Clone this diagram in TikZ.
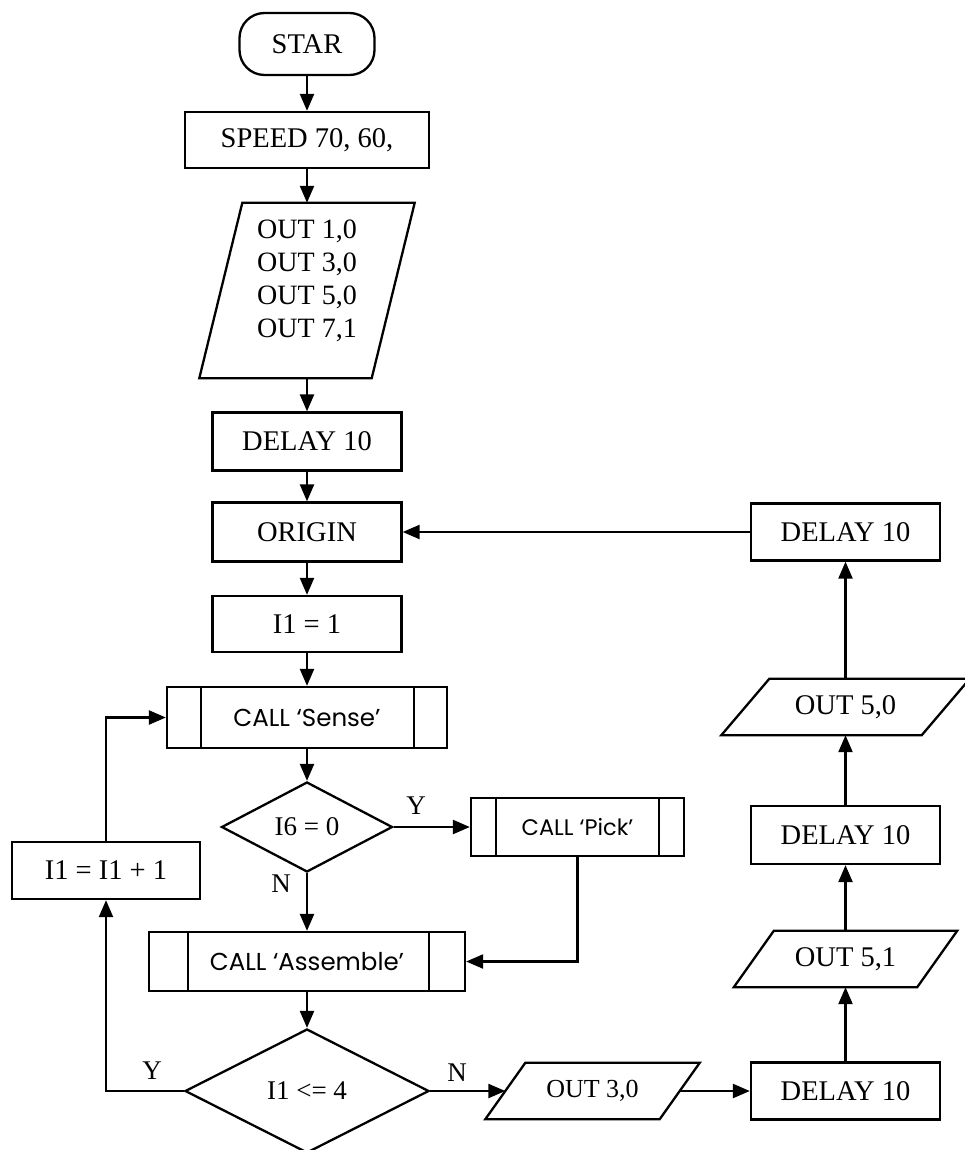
\documentclass[tikz,border=0pt]{standalone}
\usepackage{fontspec}
\setmainfont{Liberation Serif}
\newfontfamily\gothic{Poppins}
\usetikzlibrary{arrows.meta,shapes.geometric}
\newcommand\paraout[2]{\draw[line width=2.3pt] ([xshift=#2]#1.north west) -- ([xshift=#2]#1.north east) -- ([xshift=-#2]#1.south east) -- ([xshift=-#2]#1.south west) -- cycle;}
\begin{document}
\begin{tikzpicture}[x=1pt,y=-1pt,
  every node/.style={inner sep=0pt},
  serif/.style={font=\fontsize{28.5}{32}\selectfont},
  box/.style={draw, line width=2.3pt, rectangle, minimum width=189pt, minimum height=57pt, serif},
  subr/.style={draw, line width=2.3pt, rectangle, minimum height=60pt, font=\gothic\fontsize{24.5}{28}\selectfont},
  decision/.style={draw, line width=2.3pt, diamond, serif},
  paranode/.style={rectangle, minimum height=56pt, serif},
  lbl/.style={font=\fontsize{27}{30}\selectfont},
  arr/.style={line width=2.3pt, -{Triangle[length=17pt,width=14pt]}},
  plain/.style={line width=2.3pt}
]
\fill[white] (0,0) rectangle (965,1150);
\useasboundingbox (0,0) rectangle (965,1150);

% main column
\node[draw, line width=2.3pt, rounded corners=25pt, minimum width=135pt, minimum height=62pt, serif] (star) at (307,44) {STAR};
\node[box, minimum width=244pt, minimum height=56pt] (speed) at (307,140) {SPEED 70, 60,};
\node[paranode, minimum width=172pt, minimum height=175pt] (out1) at (307,290.5) {};
\paraout{out1}{21.5pt}
\node[align=center, font=\fontsize{28}{33}\selectfont] (out1txt) at (307,281) {OUT 1,0\\OUT 3,0\\OUT 5,0\\OUT 7,1};
\node[box, minimum height=58pt] (delay1) at (307,441.5) {DELAY 10};
\node[box, minimum height=59pt] (origin) at (307,532) {ORIGIN};
\node[box, minimum height=56pt] (i1) at (307,624) {I1 = 1};
\node[subr, minimum width=280pt, minimum height=61pt] (sense) at (307,717.5) {CALL ‘Sense’};
\draw[plain] ([xshift=35pt]sense.north west) -- ([xshift=35pt]sense.south west);
\draw[plain] ([xshift=-34pt]sense.north east) -- ([xshift=-34pt]sense.south east);
\node[decision, minimum width=171pt, minimum height=90pt, font=\fontsize{27}{30}\selectfont] (dec1) at (307,827) {I6 = 0};
\node[subr, minimum width=213pt, minimum height=58pt, font=\gothic\fontsize{22.5}{26}\selectfont] (pick) at (577.5,827) {CALL ‘Pick’};
\draw[plain] ([xshift=26pt]pick.north west) -- ([xshift=26pt]pick.south west);
\draw[plain] ([xshift=-26pt]pick.north east) -- ([xshift=-26pt]pick.south east);
\node[subr, minimum width=316pt, minimum height=59pt] (assemble) at (307,961.5) {CALL ‘Assemble’};
\draw[plain] ([xshift=40pt]assemble.north west) -- ([xshift=40pt]assemble.south west);
\draw[plain] ([xshift=-37pt]assemble.north east) -- ([xshift=-37pt]assemble.south east);
\node[box, minimum width=188pt, minimum height=57pt] (i1inc) at (106,870.5) {I1 = I1 + 1};
\node[decision, minimum width=244pt, minimum height=124pt, font=\fontsize{27}{30}\selectfont] (dec2) at (307,1091) {I1 <= 4};

% bottom row and right column
\node[paranode, minimum width=174pt, font=\fontsize{26}{29}\selectfont] (out3) at (592.5,1091) {OUT 3,0};
\paraout{out3}{20pt}
\node[box, minimum height=57pt] (delayb) at (845.5,1091) {DELAY 10};
\node[paranode, minimum width=183pt] (out51) at (845.5,959) {OUT 5,1};
\paraout{out51}{20pt}
\node[box, minimum height=58pt] (delaym) at (845.5,835) {DELAY 10};
\node[paranode, minimum width=200pt] (out50) at (845.5,707) {OUT 5,0};
\paraout{out50}{24pt}
\node[box, minimum height=57pt] (delayt) at (845.5,532) {DELAY 10};

% labels
\node[lbl] (y1) at (416,806) {Y};
\node[lbl] (n1) at (281,884) {N};
\node[lbl] (y2) at (152,1071) {Y};
\node[lbl] (n2) at (457,1073) {N};

% connectors
\draw[arr] (star) -- (speed);
\draw[arr] (speed) -- (out1);
\draw[arr] (out1) -- (delay1);
\draw[arr] (delay1) -- (origin);
\draw[arr] (origin) -- (i1);
\draw[arr] (i1) -- (sense);
\draw[arr] (sense) -- (dec1);
\draw[arr] (dec1.east) -- (pick.west);
\draw[arr] (dec1.south) -- (assemble.north);
\draw[arr] (pick.south) |- (assemble.east);
\draw[arr] (assemble.south) -- (dec2.north);
\draw[arr] (dec2.west) -| (i1inc.south);
\draw[arr] (i1inc.north) |- (sense.west);
\draw[arr] (dec2.east) -- (out3.west);
\draw[arr] (out3.east) -- (delayb.west);
\draw[arr] (delayb.north) -- (out51.south);
\draw[arr] (out51.north) -- (delaym.south);
\draw[arr] (delaym.north) -- (out50.south);
\draw[arr] (out50.north) -- (delayt.south);
\draw[arr] (delayt.west) -- (origin.east);
\end{tikzpicture}
\end{document}
